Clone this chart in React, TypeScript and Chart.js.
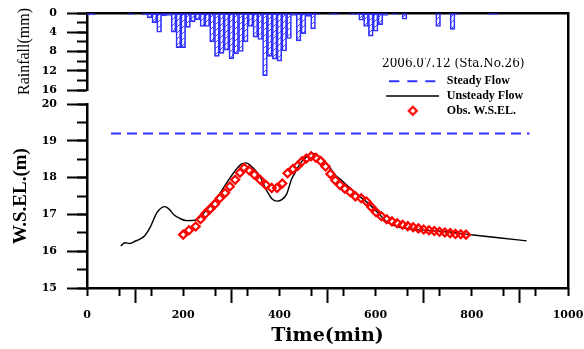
import { useEffect, useRef } from 'react';
import { Chart, registerables } from 'chart.js';
Chart.register(...registerables);

// ---------- data ----------
const rainTimes = [0, 10, 90, 120, 130, 140, 150, 160, 170, 180, 190, 200, 210, 220, 230, 240, 250, 260, 270, 280, 290, 300, 310, 320, 330, 340, 350, 360, 370, 380, 390, 400, 410, 420, 430, 440, 450, 460, 470, 480, 510, 520, 550, 560, 570, 580, 590, 600, 610, 620, 640, 660, 730, 760, 770, 840, 850];
const rainValues = [0.4, 0.4, 0.3, 0.4, 1.0, 2.0, 4.0, 0.6, 0.5, 4.0, 7.2, 7.2, 3.0, 1.8, 1.4, 2.8, 2.8, 6.0, 9.0, 8.4, 7.7, 9.5, 8.5, 8.0, 6.0, 2.8, 5.0, 5.5, 13.0, 9.0, 9.6, 10.0, 7.9, 5.3, 0.5, 5.8, 4.3, 0.7, 3.3, 0.3, 0.3, 0.3, 0.3, 0.3, 1.5, 2.8, 4.8, 3.8, 2.4, 0.5, 0.3, 1.3, 2.8, 3.4, 0.3, 0.3, 0.3];

const steadyTimes = [50, 920];
const steadyLevels = [19.2, 19.2];

const unsteadyTimes = [70, 79, 89, 100, 110, 120, 131, 145, 155, 162, 170, 180, 193, 207, 225, 240, 252, 270, 290, 310, 320, 330, 340, 350, 360, 373, 385, 395, 405, 415, 425, 432, 443, 455, 467, 480, 491, 503, 516, 528, 540, 561, 585, 606, 623, 644, 678, 710, 748, 803, 860, 914];
const unsteadyLevels = [16.14, 16.23, 16.21, 16.27, 16.33, 16.42, 16.64, 17.04, 17.18, 17.21, 17.15, 17.0, 16.89, 16.83, 16.84, 17.0, 17.17, 17.45, 17.85, 18.22, 18.36, 18.4, 18.33, 18.2, 18.02, 17.66, 17.42, 17.36, 17.4, 17.55, 17.95, 18.12, 18.38, 18.55, 18.66, 18.6, 18.48, 18.3, 18.07, 17.94, 17.8, 17.55, 17.3, 17.03, 16.8, 16.67, 16.6, 16.56, 16.53, 16.44, 16.36, 16.28];

const obsTimes = [200, 212, 226, 236, 246, 256, 266, 276, 287, 297, 308, 318, 327, 337, 348, 360, 372, 384, 395, 406, 417, 428, 438, 447, 456, 466, 476, 486, 496, 506, 516, 526, 536, 547, 558, 570, 581, 591, 601, 612, 623, 634, 645, 656, 667, 678, 689, 700, 711, 722, 733, 744, 755, 766, 777, 788];
const obsLevels = [16.45, 16.57, 16.67, 16.87, 17.02, 17.15, 17.28, 17.44, 17.58, 17.76, 17.94, 18.13, 18.26, 18.2, 18.08, 17.94, 17.8, 17.72, 17.72, 17.84, 18.12, 18.23, 18.32, 18.44, 18.52, 18.58, 18.54, 18.45, 18.3, 18.1, 17.93, 17.8, 17.7, 17.61, 17.49, 17.44, 17.35, 17.2, 17.06, 16.95, 16.87, 16.81, 16.76, 16.72, 16.68, 16.65, 16.62, 16.59, 16.57, 16.55, 16.53, 16.51, 16.49, 16.47, 16.46, 16.45];

const timeTicks = [0, 200, 400, 600, 800, 1000];
const levelTicks = [15, 16, 17, 18, 19, 20];
const rainTicks = [0, 4, 8, 12, 16];

const legendTitle = '2006.07.12 (Sta.No.26)';
const legendLabels = ['Steady Flow', 'Unsteady Flow', 'Obs. W.S.EL.'];

// ---------- helpers ----------
const SERIF = '"Liberation Serif", "Times New Roman", serif';
const DJ = '"DejaVu Serif", serif';
const BLUE = '#3333ff';

function makeHatch(): CanvasPattern | string {
  const c = document.createElement('canvas');
  c.width = 6; c.height = 6;
  const g = c.getContext('2d');
  if (!g) return 'rgba(60,60,255,0.3)';
  g.strokeStyle = 'rgba(50,50,255,0.85)';
  g.lineWidth = 1;
  g.beginPath();
  g.moveTo(0, 6); g.lineTo(6, 0);
  g.moveTo(-1, 1); g.lineTo(1, -1);
  g.moveTo(5, 7); g.lineTo(7, 5);
  g.stroke();
  return g.createPattern(c, 'repeat') || 'rgba(60,60,255,0.3)';
}

function lineSymbol(width: number, color: string, lw: number, dash: number[]) {
  const c = document.createElement('canvas');
  c.width = width; c.height = 4;
  const g = c.getContext('2d')!;
  g.strokeStyle = color; g.lineWidth = lw; g.setLineDash(dash);
  g.beginPath(); g.moveTo(0, 2); g.lineTo(width, 2); g.stroke();
  return c;
}
function diamondSymbol() {
  const c = document.createElement('canvas');
  c.width = 12; c.height = 12;
  const g = c.getContext('2d')!;
  g.strokeStyle = '#ff0000'; g.lineWidth = 2.2;
  g.beginPath(); g.moveTo(6, 2); g.lineTo(10, 6); g.lineTo(6, 10); g.lineTo(2, 6); g.closePath(); g.stroke();
  return c;
}

const fixW = (w: number) => (s: any) => { s.width = w; s.paddingTop = 0; s.paddingBottom = 0; };
const zeroW = (s: any) => { s.width = 0; s.paddingTop = 0; s.paddingBottom = 0; };
const zeroH = (s: any) => { s.height = 0; s.paddingLeft = 0; s.paddingRight = 0; };
const setTicks = (arr: number[]) => (s: any) => { s.ticks = arr.map((v) => ({ value: v })); };

const yTickFont = { family: DJ, size: 11, weight: 'bold' as const };
const xTickFont = { family: DJ, size: 11, weight: 'bold' as const };

export default function App() {
  const mainRef = useRef<HTMLCanvasElement>(null);
  const legRef = useRef<HTMLCanvasElement>(null);

  useEffect(() => {
    Chart.defaults.font.family = SERIF;
    Chart.defaults.color = '#000';
    const hatch = makeHatch();

    const main = new Chart(mainRef.current!, {
      type: 'line',
      data: {
        datasets: [
          {
            type: 'bar',
            label: 'Rainfall',
            data: rainTimes.map((t, i) => ({ x: t, y: rainValues[i] })),
            xAxisID: 'x',
            yAxisID: 'yRain',
            backgroundColor: hatch as any,
            borderColor: '#3030ff',
            borderWidth: 1,
            borderSkipped: false,
            barPercentage: 1,
            categoryPercentage: 1,
            order: 0,
          } as any,
          {
            type: 'line',
            label: 'Steady Flow',
            data: steadyTimes.map((t, i) => ({ x: t, y: steadyLevels[i] })),
            xAxisID: 'x',
            yAxisID: 'yW',
            borderColor: BLUE,
            borderWidth: 2,
            borderDash: [10, 6],
            pointRadius: 0,
            fill: false,
            order: 3,
          },
          {
            type: 'line',
            label: 'Unsteady Flow',
            data: unsteadyTimes.map((t, i) => ({ x: t, y: unsteadyLevels[i] })),
            xAxisID: 'x',
            yAxisID: 'yW',
            borderColor: '#000',
            borderWidth: 1.4,
            pointRadius: 0,
            cubicInterpolationMode: 'monotone',
            fill: false,
            order: 2,
          },
          {
            type: 'line',
            label: 'Obs. W.S.EL.',
            data: obsTimes.map((t, i) => ({ x: t, y: obsLevels[i] })),
            xAxisID: 'x',
            yAxisID: 'yW',
            showLine: false,
            pointStyle: 'rectRot',
            pointRadius: 4,
            pointBorderWidth: 2.2,
            pointBorderColor: '#ff0000',
            pointBackgroundColor: 'rgba(0,0,0,0)',
            borderColor: '#ff0000',
            order: 1,
          },
        ],
      },
      options: {
        responsive: false,
        animation: false,
        events: [],
        layout: { padding: { top: 13, right: 16, bottom: 0, left: 0 } },
        plugins: { legend: { display: false }, tooltip: { enabled: false } },
        scales: {
          x: {
            type: 'linear', position: 'bottom', min: 0, max: 1000, offset: false, weight: 1,
            afterBuildTicks: setTicks(timeTicks),
            ticks: { callback: (v: any) => String(v), font: xTickFont, color: '#000', padding: 6, maxRotation: 0, autoSkip: false },
            grid: { drawOnChartArea: false, tickLength: 15, tickWidth: 2, tickColor: '#000' },
            border: { display: true, color: '#000', width: 2.5 },
            title: { display: true, text: 'Time(min)', font: { family: DJ, size: 19, weight: 'bold' }, color: '#000', padding: { top: 0, bottom: 2 } },
            afterFit: (s: any) => { s.height = 61; s.paddingLeft = 0; s.paddingRight = 0; },
          },
          xM: {
            type: 'linear', position: 'bottom', min: 0, max: 1000, offset: false, weight: 0,
            ticks: { display: false, stepSize: 200 / 3, autoSkip: false },
            grid: { drawOnChartArea: false, tickLength: 8, tickWidth: 2, tickColor: '#000' },
            border: { display: false },
            afterFit: zeroH,
          },
          xTop: {
            type: 'linear', position: 'top', min: 0, max: 1000,
            ticks: { display: false },
            grid: { drawOnChartArea: false, drawTicks: false },
            border: { display: true, color: '#000', width: 2.5 },
            afterFit: zeroH,
          },
          yRain: {
            type: 'linear', position: 'left', stack: 'L', stackWeight: 77, weight: 6,
            min: 0, max: 16, reverse: true,
            afterBuildTicks: setTicks(rainTicks),
            ticks: { callback: (v: any) => String(v), font: yTickFont, color: '#000', padding: 10, autoSkip: false },
            grid: { drawOnChartArea: false, tickLength: 20, tickWidth: 2, tickColor: '#000' },
            border: { display: true, color: '#000', width: 2.5 },
            title: { display: true, text: 'Rainfall(mm)', font: { family: SERIF, size: 16 }, color: '#000', padding: { top: 15, bottom: 0 } },
            afterFit: fixW(87),
          },
          yGap: {
            type: 'linear', position: 'left', stack: 'L', stackWeight: 14, weight: 5,
            ticks: { display: false },
            grid: { drawOnChartArea: false, drawTicks: false },
            border: { display: false },
            afterFit: zeroW,
          },
          yW: {
            type: 'linear', position: 'left', stack: 'L', stackWeight: 184, weight: 4,
            min: 15, max: 20,
            afterBuildTicks: setTicks(levelTicks),
            ticks: { callback: (v: any) => String(v), font: yTickFont, color: '#000', padding: 10, autoSkip: false },
            grid: { drawOnChartArea: false, tickLength: 20, tickWidth: 2, tickColor: '#000' },
            border: { display: true, color: '#000', width: 2.5 },
            title: { display: true, text: 'W.S.EL.(m)', font: { family: SERIF, size: 19, weight: 'bold' }, color: '#000', padding: { top: 10, bottom: 0 } },
            afterFit: fixW(87),
          },
          yRainM: {
            type: 'linear', position: 'left', stack: 'M', stackWeight: 77, weight: 3,
            min: 0, max: 16, reverse: true,
            ticks: { display: false, stepSize: 2, autoSkip: false },
            grid: { drawOnChartArea: false, tickLength: 10, tickWidth: 2, tickColor: '#000' },
            border: { display: false },
            afterFit: zeroW,
          },
          yGapM: {
            type: 'linear', position: 'left', stack: 'M', stackWeight: 14, weight: 2,
            ticks: { display: false },
            grid: { drawOnChartArea: false, drawTicks: false },
            border: { display: false },
            afterFit: zeroW,
          },
          yWM: {
            type: 'linear', position: 'left', stack: 'M', stackWeight: 184, weight: 1,
            min: 15, max: 20,
            ticks: { display: false, stepSize: 0.5, autoSkip: false },
            grid: { drawOnChartArea: false, tickLength: 10, tickWidth: 2, tickColor: '#000' },
            border: { display: false },
            afterFit: zeroW,
          },
          yRight: {
            type: 'linear', position: 'right',
            ticks: { display: false },
            grid: { drawOnChartArea: false, drawTicks: false },
            border: { display: true, color: '#000', width: 2.5 },
            afterFit: zeroW,
          },
        } as any,
      },
    });

    const symbols = [
      lineSymbol(47, BLUE, 2, [10, 8]),
      lineSymbol(53, '#000', 1.5, []),
      diamondSymbol(),
    ];

    const leg = new Chart(legRef.current!, {
      type: 'line',
      data: { datasets: [] },
      options: {
        responsive: false,
        animation: false,
        events: [],
        layout: { padding: 0 },
        scales: { x: { display: false }, y: { display: false } },
        plugins: {
          tooltip: { enabled: false },
          legend: {
            display: true,
            position: 'top',
            align: 'start',
            onClick: () => {},
            title: {
              display: true, text: legendTitle, position: 'start', color: '#000',
              font: { family: DJ, size: 12 }, padding: { top: 0, bottom: 0 },
            } as any,
            labels: {
              usePointStyle: true,
              pointStyleWidth: 56,
              padding: 2.8,
              color: '#000',
              font: { family: SERIF, size: 12, weight: 'bold' },
              generateLabels: () =>
                legendLabels.map((text, i) => ({
                  text,
                  pointStyle: symbols[i] as any,
                  fillStyle: 'rgba(0,0,0,0)',
                  strokeStyle: 'rgba(0,0,0,0)',
                  lineWidth: 0,
                  hidden: false,
                  datasetIndex: i,
                  fontColor: '#000',
                })),
            },
          },
        },
      },
    });

    return () => { main.destroy(); leg.destroy(); };
  }, []);

  return (
    <div style={{ position: 'fixed', left: 0, top: 0, width: 584, height: 349, background: '#fff' }}>
      <canvas ref={mainRef} width={584} height={349} style={{ position: 'absolute', left: 0, top: 0 }} />
      <canvas ref={legRef} width={200} height={200} style={{ position: 'absolute', left: 382, top: 58 }} />
    </div>
  );
}
